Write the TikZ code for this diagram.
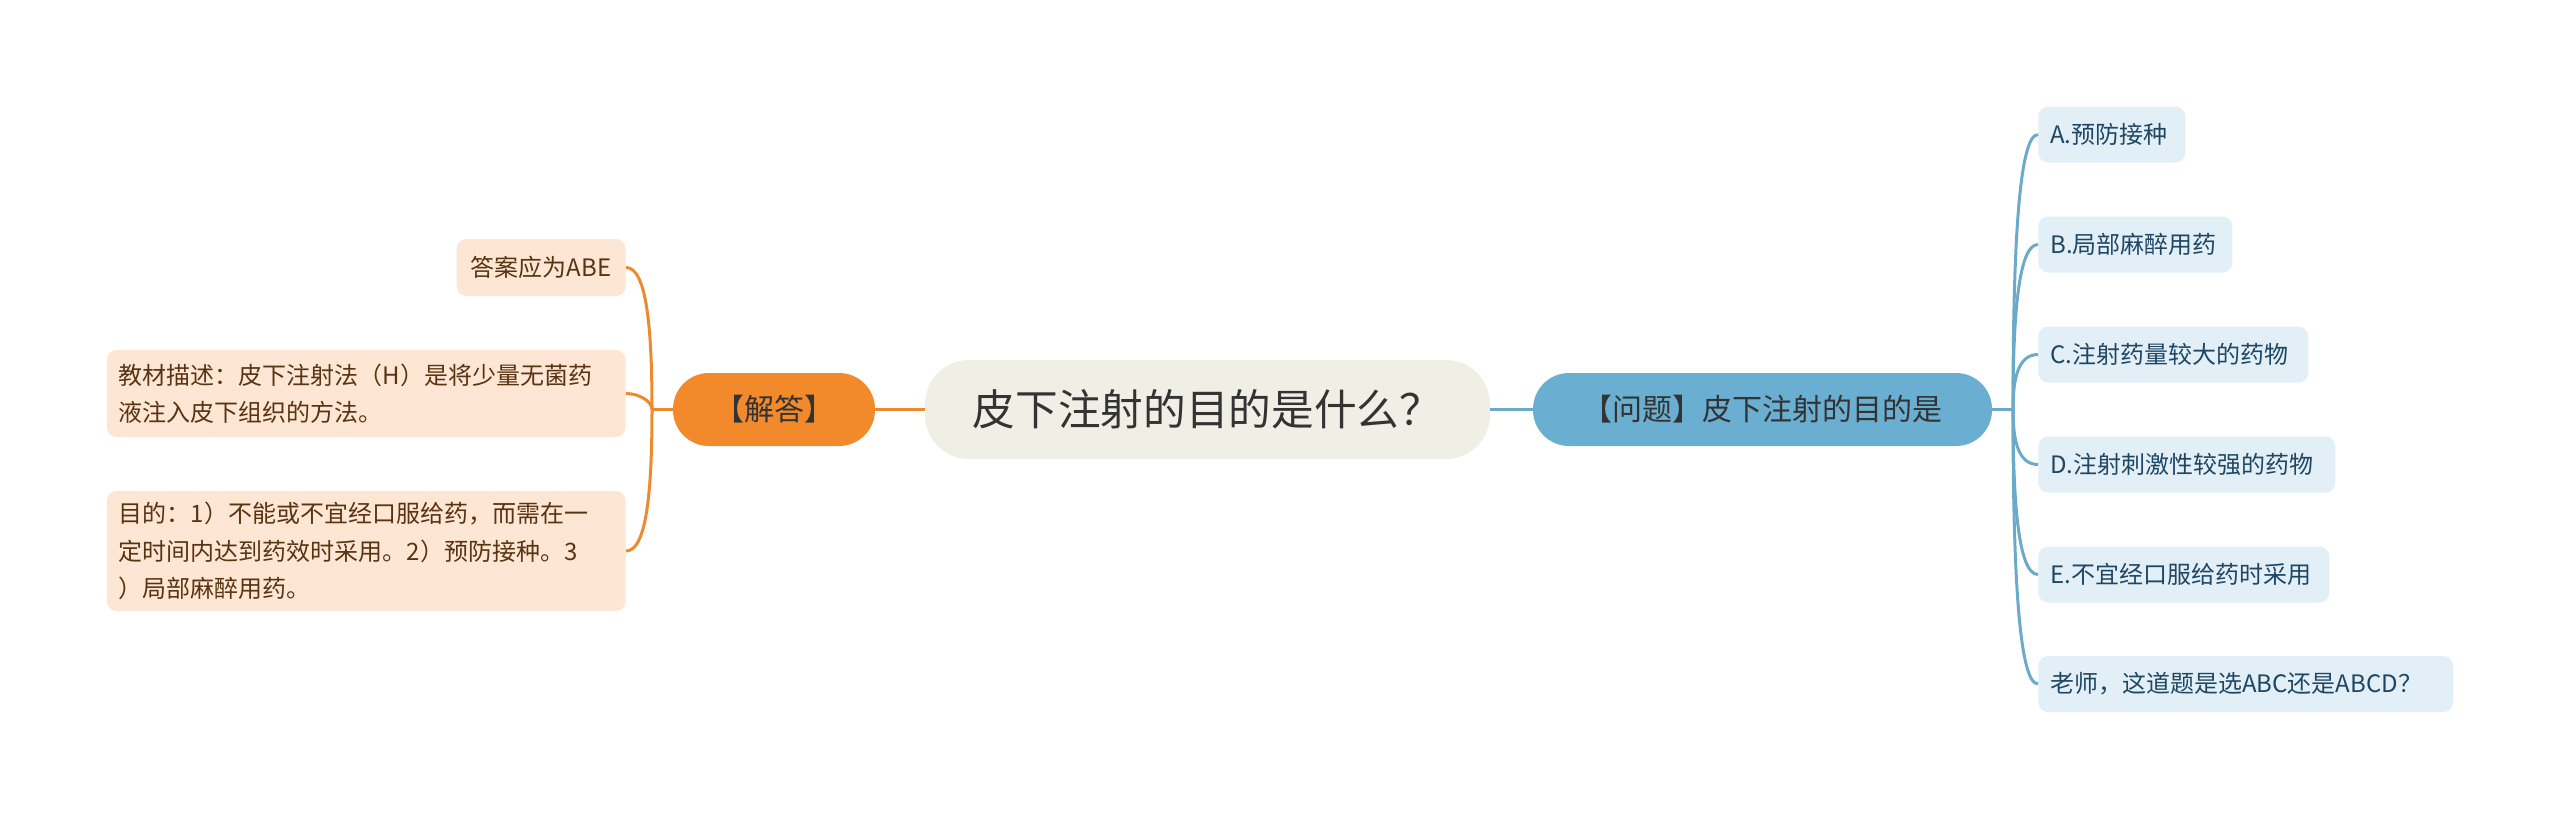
\documentclass[tikz,border=0pt]{standalone}
\usepackage{fontspec}
\setmainfont{Noto Sans CJK SC}
\usepackage{xcolor}
\usepackage{tikz}
\definecolor{topicgray}{HTML}{EFEFE6}
\definecolor{darktext}{HTML}{333333}
\definecolor{answerorange}{HTML}{F28A2C}
\definecolor{questionblue}{HTML}{6AAFD1}
\definecolor{peachleaf}{HTML}{FDE6D4}
\definecolor{browntext}{HTML}{5A3412}
\definecolor{iceleaf}{HTML}{E2EFF7}
\definecolor{navytext}{HTML}{1F4763}
\definecolor{orangeline}{HTML}{EE8A2E}
\definecolor{blueline}{HTML}{6CAACA}
\usetikzlibrary{positioning}

\begin{document}
\begin{tikzpicture}[
    x=0.75pt, y=-0.75pt,
    topic/.style={rectangle, fill=topicgray, text=darktext, rounded corners=33pt, minimum width=423.75pt, minimum height=74.25pt, inner sep=0pt, font=\fontsize{32}{38}\selectfont},
    branch/.style={rectangle, rounded corners=27pt, minimum height=54.75pt, inner sep=0pt, text=darktext, font=\fontsize{22.5}{27}\selectfont},
    leftleaf/.style={rectangle, fill=peachleaf, text=browntext, rounded corners=7.5pt, anchor=east, align=left, inner xsep=9pt, inner ysep=0pt, font=\fontsize{18}{28}\selectfont},
    rightleaf/.style={rectangle, fill=iceleaf, text=navytext, rounded corners=7.5pt, anchor=west, align=left, minimum height=42pt, inner xsep=9pt, inner ysep=0pt, font=\fontsize{18}{28}\selectfont},
    orangelink/.style={draw=orangeline, line width=2.25pt},
    bluelink/.style={draw=blueline, line width=2.25pt}
]
    \useasboundingbox (0,0) rectangle (2560,819);

    % Central topic
    \node[topic] (topic) at (1207.5, 409.5) {皮下注射的目的是什么？};

    % Branches
    \node[branch, fill=answerorange, minimum width=151.5pt] (jd) at (774, 409.5) {【解答】};
    \node[branch, fill=questionblue, minimum width=344.25pt] (wt) at (1762.5, 409.5) {【问题】皮下注射的目的是};

    % Answer leaves
    \node[leftleaf, minimum width=126.75pt, minimum height=42.75pt] (abe) at (626, 267.5) {答案应为ABE};
    \node[leftleaf, text width=371.25pt, minimum height=65.25pt] (jc) at (626, 393.5) {教材描述：皮下注射法（H）是将少量无菌药\\液注入皮下组织的方法。};
    \node[leftleaf, text width=371.25pt, minimum height=90pt] (md) at (626, 551) {目的：1）不能或不宜经口服给药，而需在一\\定时间内达到药效时采用。2）预防接种。3\\）局部麻醉用药。};

    % Question leaves
    \node[rightleaf, text width=92.25pt] (qa) at (2038, 134.5) {A.预防接种};
    \node[rightleaf, text width=127.5pt] (qb) at (2038, 244.5) {B.局部麻醉用药};
    \node[rightleaf, text width=184.5pt] (qc) at (2038, 354.5) {C.注射药量较大的药物};
    \node[rightleaf, text width=204.75pt] (qd) at (2038, 464.5) {D.注射刺激性较强的药物};
    \node[rightleaf, text width=200.25pt] (qe) at (2038, 574.5) {E.不宜经口服给药时采用};
    \node[rightleaf, text width=293.25pt] (qf) at (2038, 684) {老师，这道题是选ABC还是ABCD？};

    % Forks
    \coordinate (jdfork) at (652, 409.5);
    \coordinate (wtfork) at (2013, 409.5);

    % Links
    \draw[orangelink] (topic.west) -- (jd.east);
    \draw[orangelink] (jd.west) -- (jdfork);
    \draw[orangelink] (jdfork) to[out=90, in=0, out distance=64pt, in distance=15pt] (abe.east);
    \draw[orangelink] (jdfork) to[out=90, in=0, out distance=6pt, in distance=10pt] (jc.east);
    \draw[orangelink] (jdfork) to[out=-90, in=0, out distance=64pt, in distance=15pt] (md.east);

    \draw[bluelink] (topic.east) -- (wt.west);
    \draw[bluelink] (wt.east) -- (wtfork);
    \foreach \leaf/\dir/\reach in {qa/90/113pt, qb/90/68pt, qc/90/23pt, qd/-90/23pt, qe/-90/68pt, qf/-90/113pt}
        \draw[bluelink] (wtfork) to[out=\dir, in=180, out distance=\reach, in distance=15pt] (\leaf.west);
\end{tikzpicture}
\end{document}
